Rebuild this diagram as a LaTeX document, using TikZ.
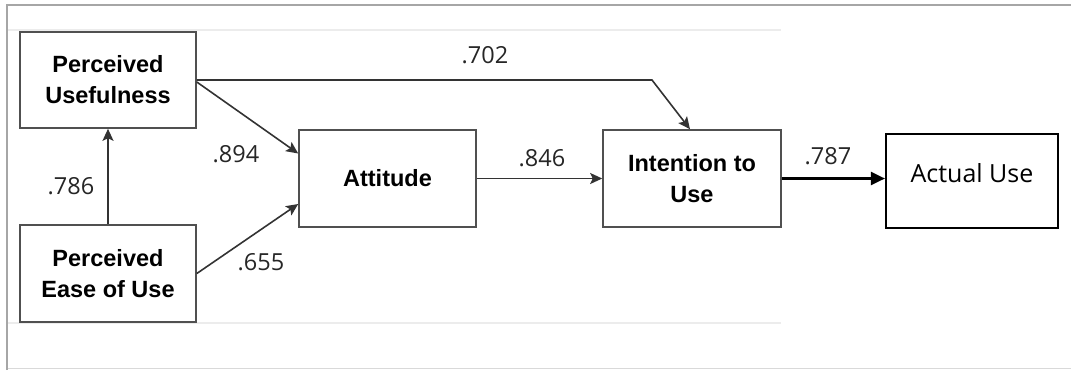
\documentclass[tikz,border=0pt]{standalone}
\usepackage{fontspec}
\setmainfont{Liberation Sans}
\newfontfamily\labfont{Open Sans}
\usetikzlibrary{arrows.meta,calc}
\definecolor{boxgray}{HTML}{505050}
\tikzset{
  cbox/.style={draw=boxgray, line width=1.6pt, rectangle, align=center, inner sep=0pt,
    font=\fontsize{23.5}{31}\selectfont\bfseries},
  conn/.style={draw=black!80, line width=1.6pt, -{Stealth[length=12pt,width=11pt,inset=2.5pt]}},
  bigconn/.style={draw=black, line width=2.2pt, -{Triangle[length=14pt,width=13pt]}},
  lab/.style={font=\labfont\fontsize{23.5}{26}\selectfont, inner sep=0pt, text=black!85},
}
\begin{document}
\begin{tikzpicture}[x=1pt,y=-1pt]
\useasboundingbox (0,0) rectangle (1071,370);
% frame
\draw[gray!30, line width=1pt] (7,368) -- (1071,368);
\draw[gray!15, line width=1.2pt] (8,30) -- (781,30);
\draw[gray!15, line width=1.2pt] (8,323) -- (781,323);
\draw[gray!70, line width=1.6pt] (7,370) -- (7,5) -- (1071,5);
% nodes
\node[cbox, minimum width=176pt, minimum height=96pt] (pu) at (108,80) {Perceived\\Usefulness};
\node[cbox, minimum width=176pt, minimum height=97pt] (peu) at (108,273.5) {Perceived\\Ease of Use};
\node[cbox, minimum width=177pt, minimum height=97pt] (att) at (387.5,178.5) {Attitude};
\node[cbox, minimum width=178pt, minimum height=97pt] (int) at (692,178.5) {Intention to\\Use};
\node[draw=black, line width=2.2pt, rectangle, inner sep=0pt, minimum width=172pt, minimum height=94pt,
  text height=18pt, text depth=16pt, font=\labfont\fontsize{25}{30}\selectfont] (act) at (972,181) {Actual Use};
\coordinate (bend) at (652,80);
% connectors
\draw[conn] (peu.north) -- (pu.south);
\draw[conn] ([yshift=-2pt]pu.east) -- ([yshift=25pt]att.west);
\draw[conn] (peu.east) -- ([yshift=-25.5pt]att.west);
\draw[conn] (pu.east) -- (bend) -- ([xshift=-2pt]int.north);
\draw[conn] (att.east) -- (int.west);
\draw[bigconn] (int.east) -- (int.east -| act.west);
% labels
\node[lab] (l786) at (71,186) {.786};
\node[lab] (l894) at (236,154) {.894};
\node[lab] (l655) at (261,262) {.655};
\node[lab] (l702) at (485,55) {.702};
\node[lab] (l846) at (542,158) {.846};
\node[lab] (l787) at (828,156) {.787};
\end{tikzpicture}
\end{document}
